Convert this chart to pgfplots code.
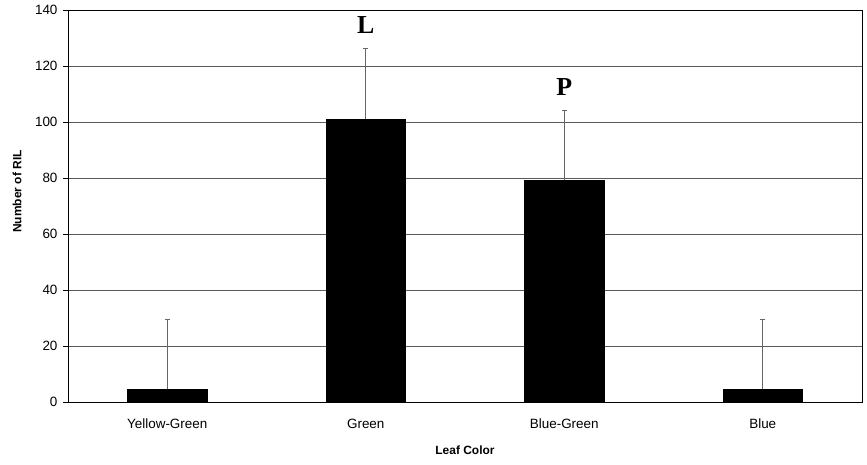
\documentclass[border=0pt]{standalone}
\usepackage{fontspec}
\setmainfont{Liberation Sans}
\newfontfamily\timesfont{Liberation Serif}
\usepackage{pgfplots}
\pgfplotsset{compat=1.18}
\begin{document}
\begin{tikzpicture}
\begin{axis}[
    name=ax,
    scale only axis,
    width=794bp, height=392bp,
    xmin=-0.5, xmax=3.5,
    ymin=0, ymax=140,
    ytick={0,20,...,140},
    xtick={0,1,2,3},
    xticklabels={Yellow-Green,Green,Blue-Green,Blue},
    major x tick style={draw=none},
    extra x ticks={-0.5,0.5,1.5,2.5,3.5},
    extra x tick labels={},
    extra x tick style={grid=none, major tick length=4bp, tick style={black, line width=0.7bp}},
    tick align=outside,
    ytick pos=left,
    xtick pos=bottom,
    major tick length=5bp,
    tick style={black, line width=0.7bp},
    ymajorgrids,
    grid style={black!65, line width=0.8bp},
    axis line style={black, line width=0.8bp},
    /pgf/number format/assume math mode=true,
    tick label style={font=\fontsize{13.5}{15}\selectfont},
    yticklabel style={xshift=-2bp},
    xticklabel style={yshift=-11bp, text height=0.75em, text depth=0.22em},
    xlabel={\textbf{Leaf Color}},
    ylabel={\textbf{Number of RIL}},
    label style={font=\fontsize{12}{14}\selectfont},
    xlabel style={at={(axis description cs:0.5,-0.122)}, anchor=center},
    ylabel style={at={(axis description cs:-0.064,0.537)}, anchor=center},
    ybar, bar width=0.4,
]
\addplot[fill=black, draw=black,
    error bars/.cd, y dir=plus, y explicit,
    error bar style={black!60, line width=0.8bp},
    error mark options={rotate=90, black!60, line width=0.8bp, mark size=2.5bp}]
  coordinates {
    (0,4.5) +- (0,25)
    (1,101) +- (0,25.3)
    (2,79.2) +- (0,25)
    (3,4.5) +- (0,25)
  };
\node[font=\timesfont\bfseries\fontsize{26}{28}\selectfont] at (axis cs:1,134.6) {L};
\node[font=\timesfont\bfseries\fontsize{26}{28}\selectfont] at (axis cs:2,112.5) {P};
\end{axis}
\pgfresetboundingbox
\path ([xshift=-68bp,yshift=-63bp]ax.south west) rectangle ([xshift=5bp,yshift=10bp]ax.north east);
\end{tikzpicture}
\end{document}
